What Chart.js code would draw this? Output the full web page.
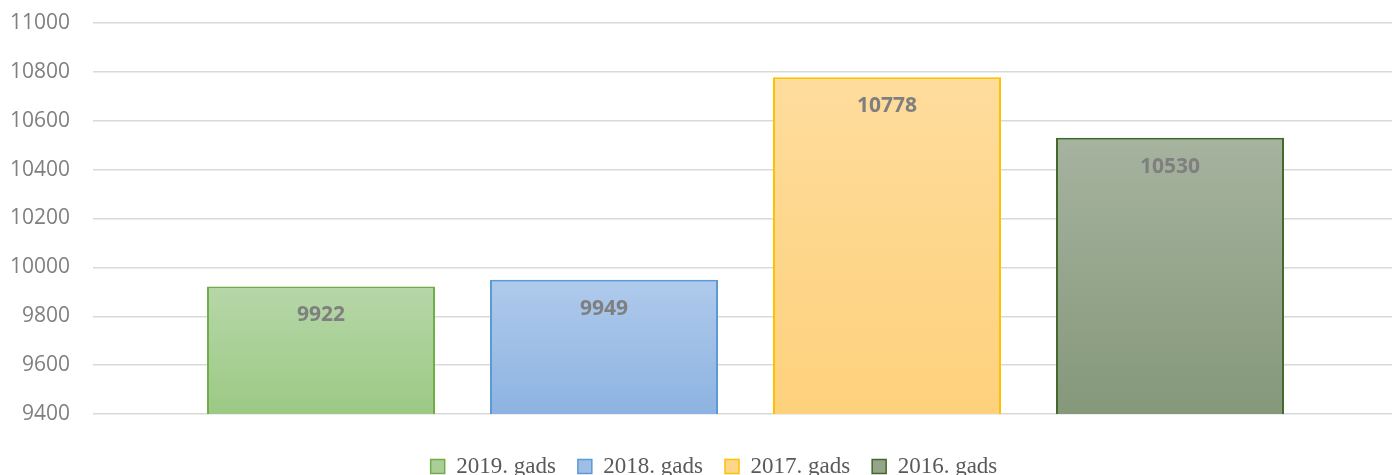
<!DOCTYPE html>
<html>
<head>
<meta charset="utf-8">
<script src="https://cdn.jsdelivr.net/npm/chart.js@4"></script>
<style>
  html, body { margin: 0; padding: 0; background: #fff; overflow: hidden; }
  #wrap { width: 1398px; height: 475px; }
</style>
</head>
<body>
<div id="wrap"><canvas id="chart"></canvas></div>
<script>
var categories = [''];
var seriesNames = ['2019. gads', '2018. gads', '2017. gads', '2016. gads'];
var seriesValues = [9922, 9949, 10778, 10530];
var tickMin = 9400;
var tickMax = 11000;
var tickStep = 200;

// gradient top / bottom colours and border colours per series
var topColors = ['#b6d7a8', '#afcaeb', '#fedc9c', '#a6b39f'];
var bottomColors = ['#9cc984', '#8db3e2', '#fed17c', '#85987a'];
var borderColors = ['#70ad47', '#5b9bd5', '#ffc000', '#43682b'];
var legendFills = ['#a9cf96', '#9ebee6', '#fed68b', '#95a58c'];

function barGradient(i) {
    return function (context) {
        var chart = context.chart;
        var y = chart.scales.y;
        if (!y || !chart.chartArea) return bottomColors[i];
        var top = y.getPixelForValue(seriesValues[i]);
        var bottom = y.getPixelForValue(tickMin);
        var g = chart.ctx.createLinearGradient(0, top, 0, bottom);
        g.addColorStop(0, topColors[i]);
        g.addColorStop(1, bottomColors[i]);
        return g;
    };
}

var datasets = [];
seriesNames.forEach(function (name, i) {
    datasets.push({
        label: name,
        data: [seriesValues[i]],
        backgroundColor: barGradient(i),
        borderColor: borderColors[i],
        borderWidth: 2,
        borderSkipped: false
    });
});

// draw the value labels inside the top of each bar
var valueLabels = {
    id: 'valueLabels',
    afterDatasetsDraw: function (chart) {
        var ctx = chart.ctx;
        ctx.save();
        ctx.font = 'bold 21px "Open Sans", sans-serif';
        ctx.fillStyle = '#7f7f7f';
        ctx.textAlign = 'center';
        ctx.textBaseline = 'middle';
        chart.data.datasets.forEach(function (ds, i) {
            var meta = chart.getDatasetMeta(i);
            meta.data.forEach(function (bar, j) {
                ctx.fillText(String(ds.data[j]), bar.x, bar.y + 29);
            });
        });
        ctx.restore();
    }
};

// the legend sits a little right of centre in the original
var legendShift = {
    id: 'legendShift',
    afterLayout: function (chart) {
        if (chart.legend) {
            chart.legend.left += 15;
            chart.legend.right += 15;
        }
    }
};

new Chart(document.getElementById('chart').getContext('2d'), {
    type: 'bar',
    data: {
        labels: categories,
        datasets: datasets
    },
    options: {
        responsive: true,
        maintainAspectRatio: false,
        animation: false,
        categoryPercentage: 0.8674,
        barPercentage: 0.8057,
        layout: { padding: { top: 0, right: 0, bottom: -13, left: 0 } },
        plugins: {
            tooltip: { enabled: false },
            legend: {
                position: 'bottom',
                labels: {
                    font: { family: '"Liberation Serif", serif', size: 23 },
                    color: '#595959',
                    boxWidth: 14,
                    boxHeight: 14,
                    padding: 22,
                    generateLabels: function (chart) {
                        return seriesNames.map(function (name, i) {
                            return {
                                text: name,
                                fillStyle: legendFills[i],
                                strokeStyle: borderColors[i],
                                lineWidth: 1.5,
                                fontColor: '#595959',
                                datasetIndex: i
                            };
                        });
                    }
                }
            }
        },
        scales: {
            x: {
                grid: { display: false },
                border: { display: false },
                ticks: { display: false },
                afterFit: function (scale) { scale.height = 19; }
            },
            y: {
                min: tickMin,
                max: tickMax,
                border: { display: false },
                grid: { color: '#d9d9d9', lineWidth: 1.5, drawTicks: false },
                afterFit: function (scale) {
                    scale.width = 93;
                    scale.paddingTop = 23;
                },
                ticks: {
                    stepSize: tickStep,
                    padding: 23,
                    color: '#7f7f7f',
                    font: { family: '"Open Sans", sans-serif', size: 21 },
                    callback: function (value) { return String(value); }
                }
            }
        }
    },
    plugins: [valueLabels, legendShift]
});
</script>
</body>
</html>
